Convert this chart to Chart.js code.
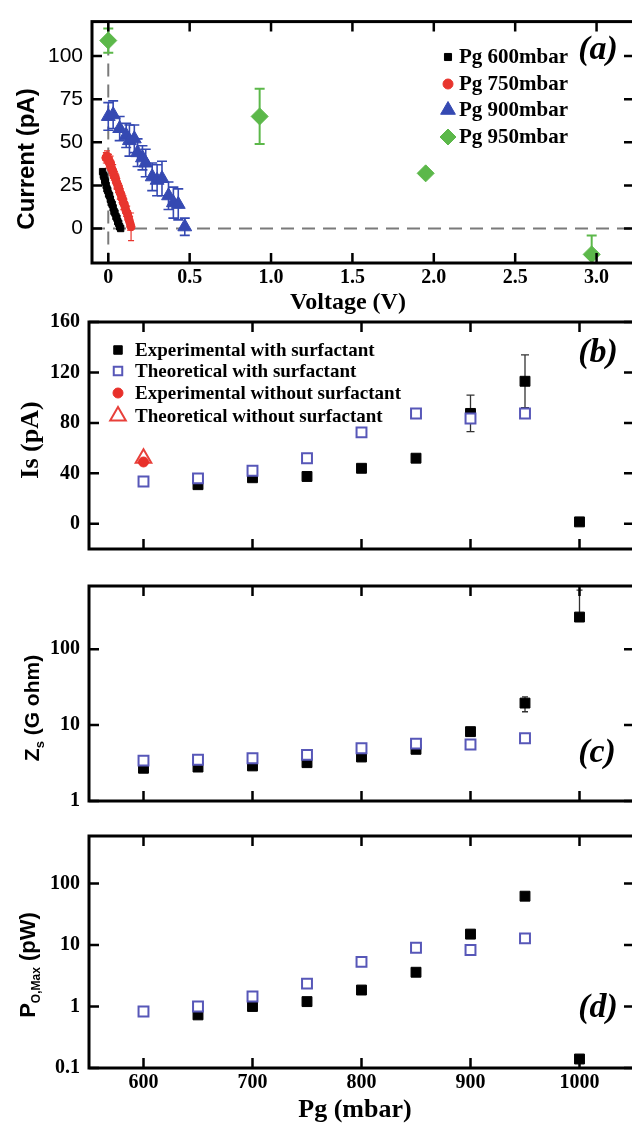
<!DOCTYPE html>
<html lang="en">
<head>
<meta charset="UTF-8">
<title>Pg panels</title>
<script src="https://cdn.jsdelivr.net/npm/chart.js"></script>
<style>
  html, body { margin: 0; padding: 0; background: #fff; overflow: hidden; width: 632px; height: 1124px; }
  canvas { position: absolute; left: 0; }
</style>
</head>
<body>
<canvas id="chartA" width="650" height="318" style="top:0px"></canvas>
<canvas id="chartB" width="650" height="270" style="top:300px"></canvas>
<canvas id="chartC" width="650" height="257" style="top:565px"></canvas>
<canvas id="chartD" width="650" height="309" style="top:815px"></canvas>
<script>
// ---- panel (a): current vs voltage ----
const v600 = [-0.035, -0.03, -0.026, -0.022, -0.018, -0.013, -0.008, -0.003, 0.002, 0.008, 0.013, 0.018, 0.024, 0.03, 0.035, 0.041, 0.047, 0.053, 0.058, 0.064, 0.07, 0.076];
const i600 = [33, 31, 30, 28, 27, 25, 23, 22, 20, 19, 17, 15, 14, 12, 10, 9, 7, 6, 4, 3, 1, 0];
const v750 = [-0.015, -0.008, 0.0, 0.004, 0.01, 0.014, 0.02, 0.025, 0.03, 0.034, 0.04, 0.045, 0.05, 0.055, 0.06, 0.066, 0.071, 0.077, 0.082, 0.088, 0.093, 0.099, 0.104, 0.11, 0.116, 0.122, 0.128, 0.134, 0.14];
const i750 = [41, 42, 39, 40, 37, 38, 35, 34, 33, 31, 30, 29, 27, 26, 24, 23, 21, 20, 18, 17, 15, 14, 12, 10, 9, 7, 5, 3, 1];
const e750 = [3, 3, 4, 3, 3, 4, 3, 3, 4, 3, 3, 3, 4, 3, 3, 3, 4, 3, 3, 3, 4, 3, 3, 3, 4, 3, 4, 4, 8];
const v900 = [0.0, 0.03, 0.07, 0.11, 0.13, 0.16, 0.18, 0.21, 0.23, 0.27, 0.30, 0.33, 0.37, 0.40, 0.43, 0.47];
const i900 = [65, 66, 58, 54, 51, 52, 44, 41, 38, 30, 28, 29, 19, 15, 14, 1];
const e900 = [8, 8, 7, 7, 9, 8, 8, 7, 8, 8, 9, 10, 8, 9, 9, 5];
const v950 = [0.0, 0.93, 1.95, 2.97];
const i950 = [109, 65, 32, -15];
const e950 = [7, 16, 0, 11];
const voltTicks = [0, 0.5, 1, 1.5, 2, 2.5, 3];
const currTicks = [0, 25, 50, 75, 100];
const zeroV = 0, zeroI = 0;

// ---- panels (b)-(d): vs gas pressure ----
const pg = [600, 650, 700, 750, 800, 850, 900, 950, 1000];
const pgTicks = [600, 700, 800, 900, 1000];
const isExp = [null, 31, 36.5, 37.5, 44, 52, 87.5, 113, 1.5];
const isExpErr = [0, 0, 0, 0, 0, 0, 14.5, 21, 0];
const isTheo = [33.5, 36, 42, 52, 72.5, 87.5, 83.5, 87.5, null];
const isExpNo = [49, null, null, null, null, null, null, null, null];
const isTheoNo = [52, null, null, null, null, null, null, null, null];
const isTicks = [0, 40, 80, 120, 160];
const zExp = [2.7, 2.8, 2.9, 3.2, 3.8, 4.8, 8.2, 19.5, 265];
const zErrHi = [0, 0, 0, 0, 0, 0, 0, 4, 335];
const zErrLo = [0, 0, 0, 0, 0, 0, 0, 4.5, 0];
const zTheo = [3.4, 3.5, 3.65, 4.05, 4.95, 5.7, 5.55, 6.7, null];
const zTicks = [1, 10, 100];
const pExp = [null, 0.73, 1.0, 1.2, 1.85, 3.6, 15, 62, 0.14];
const pTheo = [0.83, 1.0, 1.45, 2.35, 5.3, 9.0, 8.3, 12.8, null];
const pTicks = [0.1, 1, 10, 100];

Chart.defaults.animation = false;
Chart.defaults.color = '#000';

const SERIF = "'Liberation Serif', 'Times New Roman', serif";
const SANS = "'Liberation Sans', Arial, sans-serif";
const BLUE_OPEN = '#5757b8';

function pts(xs, ys, hi, lo) {
    const out = [];
    xs.forEach((x, k) => {
        if (ys[k] == null) return;
        out.push({ x: x, y: ys[k], eh: hi ? hi[k] : 0, el: lo ? lo[k] : (hi ? hi[k] : 0) });
    });
    return out;
}

function drawMarker(ctx, style, x, y, r, fill, stroke, lw) {
    ctx.beginPath();
    if (style === 'rect') {
        const s = r * Math.SQRT1_2;
        ctx.rect(x - s, y - s, 2 * s, 2 * s);
    } else if (style === 'circle') {
        ctx.arc(x, y, r, 0, Math.PI * 2);
    } else if (style === 'triangle') {
        for (let k = 0; k < 3; k++) {
            const ang = k * 2 * Math.PI / 3;
            const px = x + Math.sin(ang) * r, py = y - Math.cos(ang) * r;
            k ? ctx.lineTo(px, py) : ctx.moveTo(px, py);
        }
    } else if (style === 'rectRot') {
        ctx.moveTo(x, y - r); ctx.lineTo(x + r, y); ctx.lineTo(x, y + r); ctx.lineTo(x - r, y);
    }
    ctx.closePath();
    if (fill) { ctx.fillStyle = fill; ctx.fill(); }
    if (lw) { ctx.lineWidth = lw; ctx.strokeStyle = stroke; ctx.stroke(); }
}

// text, legend and frame placement for each canvas (page coordinates)
const decoFor = {
    chartA: {
        top: 0, zeroLines: true,
        tag: ['(a)', 598, 50],
        ytitle: { x: 26, y: 159, parts: [['Current (pA)', 'bold 24px ' + SANS, 0]] },
        xtitle: ['Voltage (V)', 348, 303, 'bold 24px ' + SERIF],
        legend: { mx: 448, tx: 459, rows: [57, 84, 110, 137], font: 'bold 21px ' + SERIF }
    },
    chartB: {
        top: 300,
        tag: ['(b)', 598, 353],
        ytitle: { x: 30, y: 440, parts: [['Is (pA)', 'bold 26px ' + SERIF, 0]] },
        legend: { mx: 118, tx: 135, rows: [350, 371, 393, 416], font: 'bold 19px ' + SERIF }
    },
    chartC: {
        top: 565,
        tag: ['(c)', 597, 753],
        ytitle: { x: 31, y: 708, parts: [['Z', 'bold 21px ' + SANS, 0], ['s', 'bold 13px ' + SANS, 5], [' (G ohm)', 'bold 21px ' + SANS, 0]] }
    },
    chartD: {
        top: 815,
        tag: ['(d)', 598, 1008],
        ytitle: { x: 27, y: 965, parts: [['P', 'bold 22px ' + SANS, 0], ['O,Max', 'bold 12px ' + SANS, 5], [' (pW)', 'bold 22px ' + SANS, 0]] },
        xtitle: ['Pg (mbar)', 355, 1110, 'bold 26px ' + SERIF]
    }
};

const decoPlugin = {
    id: 'deco',
    beforeDatasetsDraw(chart) {
        const d = decoFor[chart.canvas.id];
        const { ctx, chartArea: a } = chart;
        const x = chart.scales.x, y = chart.scales.y;
        ctx.save();
        ctx.beginPath();
        ctx.rect(a.left, a.top, a.right - a.left, a.bottom - a.top);
        ctx.clip();
        if (d.zeroLines) {
            ctx.strokeStyle = '#7a7a7a';
            ctx.lineWidth = 2;
            ctx.setLineDash([13, 8]);
            const px = x.getPixelForValue(zeroV), py = y.getPixelForValue(zeroI);
            ctx.beginPath();
            ctx.moveTo(a.left, py); ctx.lineTo(a.right, py);
            ctx.moveTo(px, a.top); ctx.lineTo(px, a.bottom);
            ctx.stroke();
            ctx.setLineDash([]);
        }
        // error bars
        chart.data.datasets.forEach(ds => {
            if (!ds.errColor) return;
            ctx.strokeStyle = ds.errColor;
            ctx.lineWidth = ds.errWidth || 1.5;
            const c = ds.capWidth || 4;
            ds.data.forEach(p => {
                if (!p.eh && !p.el) return;
                const cx = x.getPixelForValue(p.x);
                const top = y.getPixelForValue(p.y + p.eh);
                const bot = y.getPixelForValue(p.y - p.el);
                ctx.beginPath();
                ctx.moveTo(cx, top); ctx.lineTo(cx, bot);
                if (p.eh) { ctx.moveTo(cx - c, top); ctx.lineTo(cx + c, top); }
                if (p.el) { ctx.moveTo(cx - c, bot); ctx.lineTo(cx + c, bot); }
                ctx.stroke();
            });
        });
        ctx.restore();
    },
    afterDatasetsDraw(chart) {
        const d = decoFor[chart.canvas.id];
        const { ctx, chartArea: a } = chart;
        const x = chart.scales.x, y = chart.scales.y;
        const off = d.top;
        ctx.save();
        // frame + inward ticks on all four sides
        ctx.strokeStyle = '#000';
        ctx.lineWidth = 3;
        ctx.strokeRect(a.left, a.top, a.right - a.left, a.bottom - a.top);
        ctx.lineWidth = 2.5;
        ctx.beginPath();
        x.ticks.forEach(t => {
            const px = x.getPixelForValue(t.value);
            ctx.moveTo(px, a.top); ctx.lineTo(px, a.top + 10);
            ctx.moveTo(px, a.bottom); ctx.lineTo(px, a.bottom - 10);
        });
        y.ticks.forEach(t => {
            const py = y.getPixelForValue(t.value);
            ctx.moveTo(a.left, py); ctx.lineTo(a.left + 10, py);
            ctx.moveTo(a.right, py); ctx.lineTo(a.right - 10, py);
        });
        ctx.stroke();

        // legend
        if (d.legend) {
            const L = d.legend;
            ctx.font = L.font;
            ctx.textAlign = 'left';
            ctx.textBaseline = 'middle';
            chart.data.datasets.forEach((ds, k) => {
                const ry = L.rows[ds.legendRow] - off;
                drawMarker(ctx, ds.pointStyle, L.mx, ry, ds.legendRadius, ds.pointBackgroundColor,
                    ds.pointBorderColor, ds.pointBorderWidth);
                ctx.fillStyle = '#000';
                ctx.fillText(ds.label, L.tx, ry + 1);
            });
        }

        // panel tag
        ctx.fillStyle = '#000';
        ctx.font = 'italic bold 34px ' + SERIF;
        ctx.textAlign = 'center';
        ctx.textBaseline = 'middle';
        ctx.fillText(d.tag[0], d.tag[1], d.tag[2] - off);

        // x title
        if (d.xtitle) {
            ctx.font = d.xtitle[3];
            ctx.fillText(d.xtitle[0], d.xtitle[1], d.xtitle[2] - off);
        }

        // y title with optional subscript
        const yt = d.ytitle;
        ctx.translate(yt.x, yt.y - off);
        ctx.rotate(-Math.PI / 2);
        ctx.textAlign = 'left';
        ctx.textBaseline = 'alphabetic';
        let total = 0;
        yt.parts.forEach(p => { ctx.font = p[1]; total += ctx.measureText(p[0]).width; });
        let cx = -total / 2;
        yt.parts.forEach(p => {
            ctx.font = p[1];
            ctx.fillText(p[0], cx, 8 + p[2]);
            cx += ctx.measureText(p[0]).width;
        });
        ctx.restore();
    }
};

function xAxis(min, max, ticks, fmt, show, height) {
    return {
        type: 'linear', position: 'bottom', min: min, max: max,
        grid: { display: false, drawTicks: false }, border: { display: false },
        afterBuildTicks: s => { s.ticks = ticks.map(v => ({ value: v })); },
        afterFit: s => { s.height = height; },
        ticks: { display: show, padding: 3, autoSkip: false, maxRotation: 0, color: '#000',
            font: { family: SERIF, weight: 'bold', size: 20 }, callback: fmt }
    };
}

function yAxis(type, min, max, ticks, width, font) {
    return {
        type: type, position: 'left', min: min, max: max,
        grid: { display: false, drawTicks: false }, border: { display: false },
        afterBuildTicks: s => { s.ticks = ticks.map(v => ({ value: v })); },
        afterFit: s => { s.width = width; },
        ticks: { padding: 9, autoSkip: false, color: '#000', font: font, callback: v => String(v) }
    };
}

function baseOptions(scales, padTop) {
    return {
        responsive: false,
        animation: false,
        events: [],
        layout: { autoPadding: false, padding: { top: padTop, right: 16, left: 0, bottom: 0 } },
        plugins: { legend: { display: false }, tooltip: { enabled: false } },
        scales: scales
    };
}

// (a)
new Chart(document.getElementById('chartA'), {
    type: 'scatter',
    data: {
        datasets: [
            { label: 'Pg 600mbar', data: pts(v600, i600), legendRow: 0, order: 2,
              pointStyle: 'rect', pointRadius: 4.5, legendRadius: 5,
              pointBackgroundColor: '#000', pointBorderColor: '#000', pointBorderWidth: 1 },
            { label: 'Pg 750mbar', data: pts(v750, i750, e750), legendRow: 1, order: 3,
              pointStyle: 'circle', pointRadius: 4, legendRadius: 5,
              pointBackgroundColor: '#e8352e', pointBorderColor: '#e8352e', pointBorderWidth: 1,
              errColor: '#e8352e', errWidth: 1.2, capWidth: 3 },
            { label: 'Pg 900mbar', data: pts(v900, i900, e900), legendRow: 2, order: 1,
              pointStyle: 'triangle', pointRadius: 8, legendRadius: 8.5,
              pointBackgroundColor: '#3549b2', pointBorderColor: '#3549b2', pointBorderWidth: 1,
              errColor: '#3549b2', errWidth: 1.6, capWidth: 5 },
            { label: 'Pg 950mbar', data: pts(v950, i950, e950), legendRow: 3, order: 0,
              pointStyle: 'rectRot', pointRadius: 8.5, legendRadius: 8,
              pointBackgroundColor: '#5cb84a', pointBorderColor: '#5cb84a', pointBorderWidth: 1,
              errColor: '#5cb84a', errWidth: 2, capWidth: 5 }
        ]
    },
    options: baseOptions({
        x: xAxis(-0.1, 3.23, voltTicks, v => v === 0 ? '0' : v.toFixed(1), true, 55),
        y: yAxis('linear', -20, 120, currTicks, 92, { family: SANS, size: 21 })
    }, 17),
    plugins: [decoPlugin]
});

// (b)
new Chart(document.getElementById('chartB'), {
    type: 'scatter',
    data: {
        datasets: [
            { label: 'Experimental with surfactant', data: pts(pg, isExp, isExpErr), legendRow: 0, order: 3,
              pointStyle: 'rect', pointRadius: 7, legendRadius: 6,
              pointBackgroundColor: '#000', pointBorderColor: '#000', pointBorderWidth: 1,
              errColor: '#333', errWidth: 1.3, capWidth: 4 },
            { label: 'Theoretical with surfactant', data: pts(pg, isTheo), legendRow: 1, order: 2,
              pointStyle: 'rect', pointRadius: 7, legendRadius: 6,
              pointBackgroundColor: '#fff', pointBorderColor: BLUE_OPEN, pointBorderWidth: 2 },
            { label: 'Experimental without surfactant', data: pts(pg, isExpNo), legendRow: 2, order: 0,
              pointStyle: 'circle', pointRadius: 5, legendRadius: 5,
              pointBackgroundColor: '#e8302a', pointBorderColor: '#e8302a', pointBorderWidth: 1 },
            { label: 'Theoretical without surfactant', data: pts(pg, isTheoNo), legendRow: 3, order: 1,
              pointStyle: 'triangle', pointRadius: 9, legendRadius: 9,
              pointBackgroundColor: 'rgba(255,255,255,0)', pointBorderColor: '#e8403a', pointBorderWidth: 2 }
        ]
    },
    options: baseOptions({
        x: xAxis(550, 1050, pgTicks, v => String(v), false, 3),
        y: yAxis('linear', -20, 160, isTicks, 89, { family: SERIF, weight: 'bold', size: 20 })
    }, 22),
    plugins: [decoPlugin]
});

// (c)
new Chart(document.getElementById('chartC'), {
    type: 'scatter',
    data: {
        datasets: [
            { label: 'Experimental with surfactant', data: pts(pg, zExp, zErrHi, zErrLo), order: 1,
              pointStyle: 'rect', pointRadius: 7,
              pointBackgroundColor: '#000', pointBorderColor: '#000', pointBorderWidth: 1,
              errColor: '#333', errWidth: 1.3, capWidth: 3 },
            { label: 'Theoretical with surfactant', data: pts(pg, zTheo), order: 0,
              pointStyle: 'rect', pointRadius: 7,
              pointBackgroundColor: '#fff', pointBorderColor: BLUE_OPEN, pointBorderWidth: 2 }
        ]
    },
    options: baseOptions({
        x: xAxis(550, 1050, pgTicks, v => String(v), false, 5),
        y: yAxis('logarithmic', 1, 680, zTicks, 89, { family: SERIF, weight: 'bold', size: 20 })
    }, 7),
    plugins: [decoPlugin]
});

// (d)
new Chart(document.getElementById('chartD'), {
    type: 'scatter',
    data: {
        datasets: [
            { label: 'Experimental with surfactant', data: pts(pg, pExp), order: 1,
              pointStyle: 'rect', pointRadius: 7,
              pointBackgroundColor: '#000', pointBorderColor: '#000', pointBorderWidth: 1 },
            { label: 'Theoretical with surfactant', data: pts(pg, pTheo), order: 0,
              pointStyle: 'rect', pointRadius: 7,
              pointBackgroundColor: '#fff', pointBorderColor: BLUE_OPEN, pointBorderWidth: 2 }
        ]
    },
    options: baseOptions({
        x: xAxis(550, 1050, pgTicks, v => String(v), true, 56),
        y: yAxis('logarithmic', 0.1, 590, pTicks, 89, { family: SERIF, weight: 'bold', size: 20 })
    }, 9),
    plugins: [decoPlugin]
});
</script>
</body>
</html>
